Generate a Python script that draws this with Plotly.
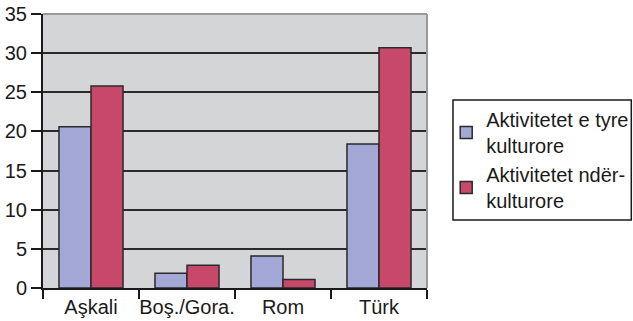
import plotly.graph_objects as go

categories = ["Aşkali", "Boş./Gora.", "Rom", "Türk"]
series_names = ["Aktivitetet e tyre<br>kulturore", "Aktivitetet ndër-<br>kulturore"]
tyre_values = [20.6, 1.9, 4.1, 18.4]
nder_values = [25.8, 2.9, 1.1, 30.7]
y_ticks = [0, 5, 10, 15, 20, 25, 30, 35]

FONT = "Liberation Sans"

fig = go.Figure()
fig.add_trace(go.Bar(x=categories, y=tyre_values, name=series_names[0],
                     marker=dict(color="#a4a8d6", line=dict(color="#2a2a2a", width=1.5))))
fig.add_trace(go.Bar(x=categories, y=nder_values, name=series_names[1],
                     marker=dict(color="#c8486a", line=dict(color="#2a2a2a", width=1.5))))

fig.update_layout(
    width=633, height=321,
    margin=dict(l=43, r=206, t=14, b=33, autoexpand=False),
    paper_bgcolor="white",
    plot_bgcolor="#d4d5d7",
    barmode="group",
    bargap=0.333,
    bargroupgap=0,
    font=dict(family=FONT, size=20, color="#1a1a1a"),
    showlegend=True,
    legend=dict(x=1.05, y=0.686, xanchor="left", yanchor="top",
                borderwidth=0, bgcolor="rgba(0,0,0,0)",
                font=dict(family=FONT, size=20, color="#1a1a1a"),
                tracegroupgap=6),
    xaxis=dict(showline=True, linecolor="#1a1a1a", linewidth=2, automargin=False,
               tickangle=0, tickfont=dict(size=20),
               ticks="outside", tickson="boundaries", ticklen=9, tickwidth=2,
               tickcolor="#1a1a1a", showgrid=False, fixedrange=True),
    yaxis=dict(range=[0, 35], tickvals=y_ticks, showline=True, linecolor="#1a1a1a",
               automargin=False, tickfont=dict(size=20),
               linewidth=2, ticks="outside", ticklen=10, tickwidth=2, tickcolor="#1a1a1a",
               showgrid=True, gridcolor="#2a2a2a", gridwidth=2, zeroline=False),
    shapes=[
        dict(type="line", xref="paper", yref="paper", x0=0, x1=1, y0=1, y1=1,
             line=dict(color="#9a9a9a", width=2), layer="above"),
        dict(type="line", xref="paper", yref="paper", x0=1, x1=1, y0=0, y1=1,
             line=dict(color="#9a9a9a", width=2), layer="above"),
        dict(type="rect", xref="paper", yref="paper", x0=1.0677, x1=1.532, y0=0.248, y1=0.686,
             line=dict(color="#1a1a1a", width=1.5), fillcolor="rgba(0,0,0,0)"),
    ],
)

fig.write_html("out.html")
